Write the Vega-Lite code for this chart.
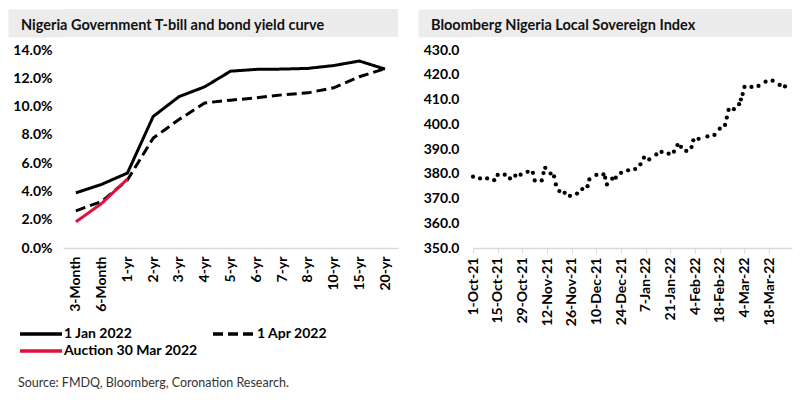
{
  "$schema": "https://vega.github.io/schema/vega-lite/v6.json",
  "padding": {"left": 8, "top": 9, "right": 8, "bottom": 5},
  "title": {
    "text": "Source: FMDQ, Bloomberg, Coronation Research.",
    "orient": "bottom",
    "anchor": "start",
    "frame": "bounds",
    "dx": 10,
    "offset": 19,
    "font": "Lato",
    "fontSize": 12.5,
    "fontWeight": "normal",
    "color": "#333333"
  },
  "spacing": 20,
  "hconcat": [
    {
      "spacing": 6,
      "vconcat": [
        {
          "width": 335,
          "height": 28,
          "view": {"fill": "#ececec", "stroke": null},
          "data": {"values": [{"t": "header"}]},
          "mark": {"type": "point", "opacity": 0},
          "encoding": {
            "y": {
              "field": "t",
              "type": "nominal",
              "title": null,
              "axis": {
                "labels": false,
                "ticks": false,
                "grid": false,
                "domainColor": "#ececec",
                "domainWidth": 55,
                "domainCap": "butt",
                "offset": 27.5
              }
            }
          },
          "title": {
            "text": "Nigeria Government T-bill and bond yield curve",
            "anchor": "start",
            "frame": "group",
            "baseline": "middle",
            "offset": -31,
            "dx": -42,
            "font": "Lato",
            "fontSize": 14.5,
            "fontWeight": "bold",
            "color": "#111111"
          }
        },
        {
          "width": 335,
          "height": 198,
          "data": {
            "values": [
              {"tenor": "3-Month", "series": "1 Jan 2022", "yield": 0.039},
              {"tenor": "6-Month", "series": "1 Jan 2022", "yield": 0.045},
              {"tenor": "1-yr", "series": "1 Jan 2022", "yield": 0.053},
              {"tenor": "2-yr", "series": "1 Jan 2022", "yield": 0.093},
              {"tenor": "3-yr", "series": "1 Jan 2022", "yield": 0.107},
              {"tenor": "4-yr", "series": "1 Jan 2022", "yield": 0.114},
              {"tenor": "5-yr", "series": "1 Jan 2022", "yield": 0.125},
              {"tenor": "6-yr", "series": "1 Jan 2022", "yield": 0.1263},
              {"tenor": "7-yr", "series": "1 Jan 2022", "yield": 0.1265},
              {"tenor": "8-yr", "series": "1 Jan 2022", "yield": 0.127},
              {"tenor": "10-yr", "series": "1 Jan 2022", "yield": 0.129},
              {"tenor": "15-yr", "series": "1 Jan 2022", "yield": 0.1322},
              {"tenor": "20-yr", "series": "1 Jan 2022", "yield": 0.1265},
              {"tenor": "3-Month", "series": "1 Apr 2022", "yield": 0.0263},
              {"tenor": "6-Month", "series": "1 Apr 2022", "yield": 0.0329},
              {"tenor": "1-yr", "series": "1 Apr 2022", "yield": 0.0481},
              {"tenor": "2-yr", "series": "1 Apr 2022", "yield": 0.0777},
              {"tenor": "3-yr", "series": "1 Apr 2022", "yield": 0.0908},
              {"tenor": "4-yr", "series": "1 Apr 2022", "yield": 0.1026},
              {"tenor": "5-yr", "series": "1 Apr 2022", "yield": 0.1045},
              {"tenor": "6-yr", "series": "1 Apr 2022", "yield": 0.1062},
              {"tenor": "7-yr", "series": "1 Apr 2022", "yield": 0.1083},
              {"tenor": "8-yr", "series": "1 Apr 2022", "yield": 0.1097},
              {"tenor": "10-yr", "series": "1 Apr 2022", "yield": 0.1133},
              {"tenor": "15-yr", "series": "1 Apr 2022", "yield": 0.1211},
              {"tenor": "20-yr", "series": "1 Apr 2022", "yield": 0.1268},
              {"tenor": "3-Month", "series": "Auction 30 Mar 2022", "yield": 0.0185},
              {"tenor": "6-Month", "series": "Auction 30 Mar 2022", "yield": 0.0315},
              {"tenor": "1-yr", "series": "Auction 30 Mar 2022", "yield": 0.0488}
            ]
          },
          "mark": {"type": "line", "strokeWidth": 3},
          "encoding": {
            "x": {
              "field": "tenor",
              "type": "ordinal",
              "sort": ["3-Month", "6-Month", "1-yr", "2-yr", "3-yr", "4-yr", "5-yr", "6-yr", "7-yr", "8-yr", "10-yr", "15-yr", "20-yr"],
              "title": null,
              "axis": {
                "labelAngle": -90,
                "labelAlign": "right",
                "labelBaseline": "middle",
                "labelPadding": 8,
                "ticks": false,
                "domainColor": "#d9d9d9",
                "domainWidth": 1.5
              }
            },
            "y": {
              "field": "yield",
              "type": "quantitative",
              "title": null,
              "scale": {"domain": [0, 0.14]},
              "axis": {
                "values": [0, 0.02, 0.04, 0.06, 0.08, 0.1, 0.12, 0.14],
                "format": ".1%",
                "grid": false,
                "domain": false,
                "ticks": false,
                "labelPadding": 11,
                "minExtent": 55,
                "maxExtent": 55
              }
            },
            "color": {
              "field": "series",
              "type": "nominal",
              "title": null,
              "scale": {
                "domain": ["1 Jan 2022", "1 Apr 2022", "Auction 30 Mar 2022"],
                "range": ["#000000", "#000000", "#e0103c"]
              }
            },
            "strokeDash": {
              "field": "series",
              "type": "nominal",
              "title": null,
              "scale": {
                "domain": ["1 Jan 2022", "1 Apr 2022", "Auction 30 Mar 2022"],
                "range": [[1, 0], [10, 5], [1, 0]]
              }
            }
          }
        }
      ]
    },
    {
      "spacing": 6,
      "vconcat": [
        {
          "width": 319,
          "height": 28,
          "view": {"fill": "#ececec", "stroke": null},
          "data": {"values": [{"t": "header"}]},
          "mark": {"type": "point", "opacity": 0},
          "encoding": {
            "y": {
              "field": "t",
              "type": "nominal",
              "title": null,
              "axis": {
                "labels": false,
                "ticks": false,
                "grid": false,
                "domainColor": "#ececec",
                "domainWidth": 55,
                "domainCap": "butt",
                "offset": 27.5
              }
            }
          },
          "title": {
            "text": "Bloomberg Nigeria Local Sovereign Index",
            "anchor": "start",
            "frame": "group",
            "baseline": "middle",
            "offset": -31,
            "dx": -42,
            "font": "Lato",
            "fontSize": 14.5,
            "fontWeight": "bold",
            "color": "#111111"
          }
        },
        {
          "width": 319,
          "height": 198,
          "data": {
            "values": [
              {"date": "2021-10-01", "index": 378.8},
              {"date": "2021-10-05", "index": 378.1},
              {"date": "2021-10-09", "index": 378.1},
              {"date": "2021-10-13", "index": 377.4},
              {"date": "2021-10-15", "index": 379.5},
              {"date": "2021-10-19", "index": 379.6},
              {"date": "2021-10-22", "index": 378.1},
              {"date": "2021-10-25", "index": 379.2},
              {"date": "2021-10-28", "index": 379.6},
              {"date": "2021-11-01", "index": 380.8},
              {"date": "2021-11-04", "index": 380.4},
              {"date": "2021-11-05", "index": 377.3},
              {"date": "2021-11-09", "index": 377.3},
              {"date": "2021-11-10", "index": 380.3},
              {"date": "2021-11-11", "index": 382.4},
              {"date": "2021-11-14", "index": 380.1},
              {"date": "2021-11-16", "index": 378.9},
              {"date": "2021-11-17", "index": 375.7},
              {"date": "2021-11-19", "index": 373.0},
              {"date": "2021-11-22", "index": 372.3},
              {"date": "2021-11-25", "index": 371.1},
              {"date": "2021-11-29", "index": 372.0},
              {"date": "2021-12-02", "index": 373.8},
              {"date": "2021-12-05", "index": 375.0},
              {"date": "2021-12-06", "index": 377.7},
              {"date": "2021-12-10", "index": 379.5},
              {"date": "2021-12-14", "index": 379.7},
              {"date": "2021-12-15", "index": 378.4},
              {"date": "2021-12-16", "index": 375.7},
              {"date": "2021-12-19", "index": 378.0},
              {"date": "2021-12-21", "index": 378.4},
              {"date": "2021-12-24", "index": 380.4},
              {"date": "2021-12-28", "index": 381.4},
              {"date": "2022-01-01", "index": 381.9},
              {"date": "2022-01-04", "index": 383.8},
              {"date": "2022-01-06", "index": 386.5},
              {"date": "2022-01-09", "index": 385.8},
              {"date": "2022-01-13", "index": 387.8},
              {"date": "2022-01-16", "index": 388.8},
              {"date": "2022-01-20", "index": 388.1},
              {"date": "2022-01-23", "index": 388.9},
              {"date": "2022-01-25", "index": 391.6},
              {"date": "2022-01-27", "index": 390.9},
              {"date": "2022-01-30", "index": 389.2},
              {"date": "2022-02-02", "index": 390.8},
              {"date": "2022-02-03", "index": 393.5},
              {"date": "2022-02-06", "index": 394.1},
              {"date": "2022-02-11", "index": 395.1},
              {"date": "2022-02-15", "index": 395.7},
              {"date": "2022-02-18", "index": 398.2},
              {"date": "2022-02-21", "index": 399.7},
              {"date": "2022-02-22", "index": 402.7},
              {"date": "2022-02-23", "index": 405.8},
              {"date": "2022-02-26", "index": 406.1},
              {"date": "2022-03-01", "index": 408.1},
              {"date": "2022-03-02", "index": 410.0},
              {"date": "2022-03-03", "index": 412.2},
              {"date": "2022-03-04", "index": 415.1},
              {"date": "2022-03-08", "index": 415.1},
              {"date": "2022-03-12", "index": 415.5},
              {"date": "2022-03-16", "index": 417.2},
              {"date": "2022-03-20", "index": 417.6},
              {"date": "2022-03-24", "index": 415.9},
              {"date": "2022-03-27", "index": 415.3}
            ]
          },
          "mark": {"type": "point", "filled": true, "size": 18, "color": "#000000", "opacity": 1},
          "encoding": {
            "x": {
              "field": "date",
              "type": "temporal",
              "title": null,
              "scale": {
                "type": "utc",
                "domain": [
                  {"year": 2021, "month": "oct", "date": 1, "utc": true},
                  {"year": 2022, "month": "mar", "date": 31, "utc": true}
                ]
              },
              "axis": {
                "values": [
                  {"year": 2021, "month": "oct", "date": 1, "utc": true},
                  {"year": 2021, "month": "oct", "date": 15, "utc": true},
                  {"year": 2021, "month": "oct", "date": 29, "utc": true},
                  {"year": 2021, "month": "nov", "date": 12, "utc": true},
                  {"year": 2021, "month": "nov", "date": 26, "utc": true},
                  {"year": 2021, "month": "dec", "date": 10, "utc": true},
                  {"year": 2021, "month": "dec", "date": 24, "utc": true},
                  {"year": 2022, "month": "jan", "date": 7, "utc": true},
                  {"year": 2022, "month": "jan", "date": 21, "utc": true},
                  {"year": 2022, "month": "feb", "date": 4, "utc": true},
                  {"year": 2022, "month": "feb", "date": 18, "utc": true},
                  {"year": 2022, "month": "mar", "date": 4, "utc": true},
                  {"year": 2022, "month": "mar", "date": 18, "utc": true}
                ],
                "format": "%-d-%b-%y",
                "labelAngle": -90,
                "labelAlign": "right",
                "labelBaseline": "middle",
                "labelPadding": 4,
                "labelFlush": false,
                "labelOverlap": false,
                "tickColor": "#d9d9d9",
                "tickSize": 5,
                "domainColor": "#d9d9d9",
                "domainWidth": 1.5,
                "grid": false
              }
            },
            "y": {
              "field": "index",
              "type": "quantitative",
              "title": null,
              "scale": {"domain": [350, 430]},
              "axis": {
                "values": [350, 360, 370, 380, 390, 400, 410, 420, 430],
                "format": ".1f",
                "grid": false,
                "domain": false,
                "ticks": false,
                "labelPadding": 14,
                "minExtent": 55,
                "maxExtent": 55
              }
            }
          }
        }
      ]
    }
  ],
  "config": {
    "font": "Lato",
    "view": {"stroke": null},
    "axis": {
      "labelFont": "Lato",
      "labelFontSize": 14,
      "labelFontWeight": "bold",
      "labelColor": "#000000"
    },
    "legend": {
      "orient": "none",
      "direction": "horizontal",
      "legendX": -31,
      "legendY": 316,
      "columns": 2,
      "columnPadding": 8,
      "rowPadding": 1,
      "symbolType": "M-3,0L3,0",
      "symbolSize": 196,
      "symbolStrokeWidth": 3.5,
      "labelOffset": 14,
      "labelFont": "Lato",
      "labelFontSize": 14,
      "labelFontWeight": "bold",
      "labelColor": "#000000",
      "labelLimit": 300
    }
  }
}
